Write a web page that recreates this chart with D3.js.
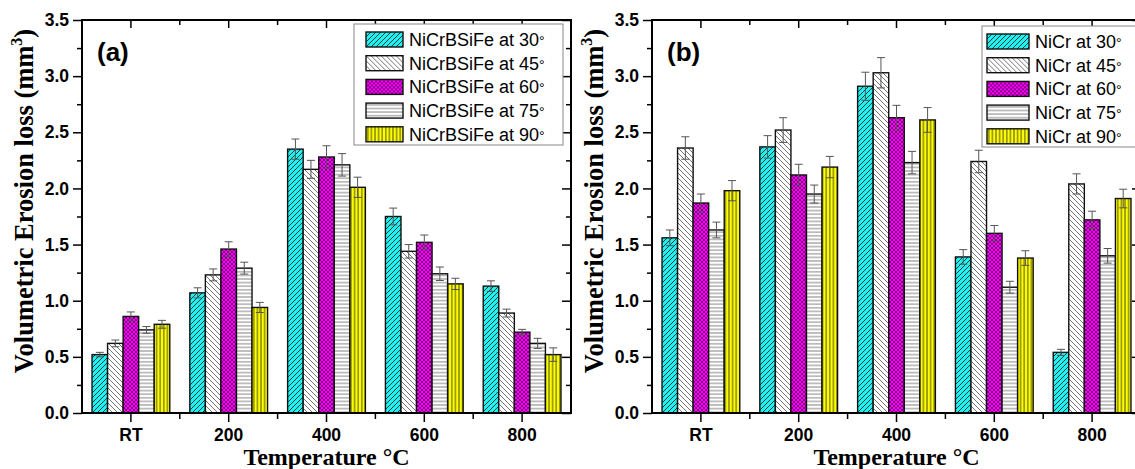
<!DOCTYPE html>
<html>
<head>
<meta charset="utf-8">
<script src="https://cdn.jsdelivr.net/npm/d3@7"></script>
<style>
  body { margin: 0; background: #fff; }
  svg { display: block; }
  .tick text { font-family: "Liberation Sans", Arial, sans-serif; font-weight: bold; font-size: 17.5px; fill: #000; }
</style>
</head>
<body>
<script>
// values, one row per impact angle
const categories = ["RT", "200", "400", "600", "800"];
const angles = [30, 45, 60, 75, 90];
const yTicks = [0, 0.5, 1.0, 1.5, 2.0, 2.5, 3.0, 3.5];

const nicrbsifeMean = [
    [0.52, 1.07, 2.35, 1.75, 1.13],
    [0.62, 1.23, 2.17, 1.44, 0.89],
    [0.86, 1.46, 2.28, 1.52, 0.72],
    [0.74, 1.29, 2.21, 1.24, 0.62],
    [0.79, 0.94, 2.01, 1.15, 0.52]];
const nicrbsifeErr = [
    [0.02, 0.045, 0.09, 0.075, 0.047],
    [0.03, 0.053, 0.08, 0.06, 0.035],
    [0.04, 0.065, 0.10, 0.065, 0.025],
    [0.03, 0.053, 0.10, 0.06, 0.045],
    [0.035, 0.045, 0.09, 0.05, 0.06]];

const nicrMean = [
    [1.56, 2.37, 2.91, 1.39, 0.54],
    [2.36, 2.52, 3.03, 2.24, 2.04],
    [1.87, 2.12, 2.63, 1.60, 1.72],
    [1.63, 1.95, 2.23, 1.12, 1.40],
    [1.98, 2.19, 2.61, 1.38, 1.91]];
const nicrErr = [
    [0.07, 0.10, 0.125, 0.065, 0.027],
    [0.10, 0.11, 0.135, 0.10, 0.09],
    [0.08, 0.095, 0.11, 0.07, 0.077],
    [0.07, 0.08, 0.10, 0.053, 0.065],
    [0.09, 0.095, 0.11, 0.065, 0.083]];

const W = 1135, H = 469;
const svg = d3.select("body").append("svg")
    .attr("width", W)
    .attr("height", H);

// fill patterns, one per angle
const defs = svg.append("defs");
function pattern(id, size, bg) {
    const p = defs.append("pattern")
        .attr("id", id)
        .attr("patternUnits", "userSpaceOnUse")
        .attr("width", size)
        .attr("height", size);
    p.append("rect").attr("width", size).attr("height", size).attr("fill", bg);
    return p;
}
pattern("p30", 5, "#1ff2f2").append("path")
    .attr("d", "M0,5L5,0M-1,1L1,-1M4,6L6,4")
    .attr("stroke", "#222").attr("stroke-width", 0.9);
pattern("p45", 5, "#fff").append("path")
    .attr("d", "M0,0L5,5M-1,4L1,6M4,-1L6,1")
    .attr("stroke", "#666").attr("stroke-width", 0.9);
pattern("p60", 4, "#ff00ff").append("path")
    .attr("d", "M0,0L4,4M0,4L4,0")
    .attr("stroke", "#300030").attr("stroke-width", 0.6);
pattern("p75", 3.6, "#fff").append("path")
    .attr("d", "M0,1.8H3.6")
    .attr("stroke", "#777").attr("stroke-width", 0.9);
pattern("p90", 3.6, "#ffff00").append("path")
    .attr("d", "M1.8,0V3.6")
    .attr("stroke", "#222").attr("stroke-width", 0.8);

const fills = angles.map(a => "url(#p" + a + ")");

const plotTop = 20, plotBottom = 413, plotW = 489;

function panel(opts) {
    const x0 = opts.left;
    const g = svg.append("g");

    const x = d3.scaleBand()
        .domain(categories)
        .range([x0, x0 + plotW])
        .padding(0);
    const inner = d3.scaleBand()
        .domain(angles)
        .range([0, x.bandwidth() * 0.795]);
    const groupOff = x.bandwidth() * (1 - 0.795) / 2;

    const y = d3.scaleLinear()
        .domain([0, 3.5])
        .range([plotBottom, plotTop]);

    const minorY = d3.range(0.25, 3.5, 0.5);
    const midX = categories.slice(1).map(c => x(c));

    // bars
    angles.forEach((a, i) => {
        g.append("g").selectAll("rect")
            .data(opts.mean[i])
            .join("rect")
            .attr("x", (d, j) => x(categories[j]) + groupOff + inner(a))
            .attr("y", d => y(d))
            .attr("width", inner.bandwidth())
            .attr("height", d => plotBottom - y(d))
            .attr("fill", fills[i])
            .attr("stroke", "#111")
            .attr("stroke-width", 1.4);
    });

    // error bars
    angles.forEach((a, i) => {
        const eg = g.append("g")
            .attr("stroke", "#555")
            .attr("stroke-width", 1);
        opts.mean[i].forEach((m, j) => {
            const cx = x(categories[j]) + groupOff + inner(a) + inner.bandwidth() / 2;
            const e = opts.err[i][j];
            eg.append("line").attr("x1", cx).attr("x2", cx).attr("y1", y(m - e)).attr("y2", y(m + e));
            eg.append("line").attr("x1", cx - 4).attr("x2", cx + 4).attr("y1", y(m + e)).attr("y2", y(m + e));
            eg.append("line").attr("x1", cx - 4).attr("x2", cx + 4).attr("y1", y(m - e)).attr("y2", y(m - e));
        });
    });

    // axes
    const ax = g.append("g");
    ax.append("g")
        .attr("transform", "translate(" + x0 + ",0)")
        .call(d3.axisLeft(y).tickValues(yTicks).tickSize(9).tickPadding(4).tickFormat(d3.format(".1f")));
    ax.append("g")
        .attr("transform", "translate(" + x0 + ",0)")
        .call(d3.axisLeft(y).tickValues(minorY).tickSize(5).tickFormat(""));
    ax.append("g")
        .attr("transform", "translate(" + (x0 + plotW) + ",0)")
        .call(d3.axisLeft(y).tickValues(yTicks).tickSize(9).tickFormat(""));
    ax.append("g")
        .attr("transform", "translate(" + (x0 + plotW) + ",0)")
        .call(d3.axisLeft(y).tickValues(minorY).tickSize(5).tickFormat(""));

    ax.append("g")
        .attr("transform", "translate(0," + plotBottom + ")")
        .call(d3.axisBottom(x).tickSize(9).tickPadding(7));
    ax.append("g").selectAll("line")
        .data(midX).join("line")
        .attr("x1", d => d).attr("x2", d => d)
        .attr("y1", plotBottom).attr("y2", plotBottom + 6);
    ax.append("g")
        .attr("transform", "translate(0," + plotTop + ")")
        .call(d3.axisBottom(x).tickSize(8).tickFormat(""));
    ax.append("g").selectAll("line")
        .data(midX).join("line")
        .attr("x1", d => d).attr("x2", d => d)
        .attr("y1", plotTop).attr("y2", plotTop + 5);

    ax.selectAll(".domain").remove();
    ax.selectAll("line").attr("stroke", "#000").attr("stroke-width", 1.5);

    g.append("rect")
        .attr("x", x0).attr("y", plotTop)
        .attr("width", plotW).attr("height", plotBottom - plotTop)
        .attr("fill", "none")
        .attr("stroke", "#000")
        .attr("stroke-width", 2);

    // titles
    g.append("text")
        .attr("transform", "translate(" + (x0 - 49) + "," + 201 + ") rotate(-90)")
        .attr("text-anchor", "middle")
        .style("font-family", "'Liberation Serif', 'Times New Roman', serif")
        .style("font-weight", "bold")
        .style("font-size", "26.5px")
        .text("Volumetric Erosion loss (mm")
        .call(t => {
            t.append("tspan").attr("dy", -11).style("font-size", "16px").text("3");
            t.append("tspan").attr("dy", 11).text(")");
        });

    g.append("text")
        .attr("x", x0 + plotW / 2)
        .attr("y", 465)
        .attr("text-anchor", "middle")
        .style("font-family", "'Liberation Serif', 'Times New Roman', serif")
        .style("font-weight", "bold")
        .style("font-size", "24px")
        .text("Temperature °C");

    g.append("text")
        .attr("x", x0 + 15)
        .attr("y", 61)
        .style("font-family", "'Liberation Sans', Arial, sans-serif")
        .style("font-weight", "bold")
        .style("font-size", "26px")
        .text(opts.tag);

    // legend
    const lg = g.append("g").attr("transform", "translate(" + opts.legX + "," + opts.legY + ")");
    lg.append("rect")
        .attr("width", opts.legW).attr("height", 121)
        .attr("fill", "#fff")
        .attr("stroke", "#888")
        .attr("stroke-width", 1);
    angles.forEach((a, i) => {
        const row = lg.append("g").attr("transform", "translate(" + opts.swX + "," + (8 + i * 23.7) + ")");
        row.append("rect")
            .attr("width", opts.swW).attr("height", 15)
            .attr("fill", fills[i])
            .attr("stroke", "#111")
            .attr("stroke-width", 1.4);
        row.append("text")
            .attr("x", opts.swW + 6)
            .attr("y", 14)
            .style("font-family", "'Liberation Sans', Arial, sans-serif")
            .style("font-size", "18px")
            .text(opts.name + " at " + a)
            .append("tspan")
            .style("font-size", "14px")
            .text("°");
    });
}

panel({
    left: 82, mean: nicrbsifeMean, err: nicrbsifeErr, tag: "(a)", name: "NiCrBSiFe",
    legX: 354, legY: 24, legW: 209, swX: 12, swW: 37 });
panel({
    left: 652, mean: nicrMean, err: nicrErr, tag: "(b)", name: "NiCr",
    legX: 982, legY: 26, legW: 158, swX: 5, swW: 42 });
</script>
</body>
</html>
